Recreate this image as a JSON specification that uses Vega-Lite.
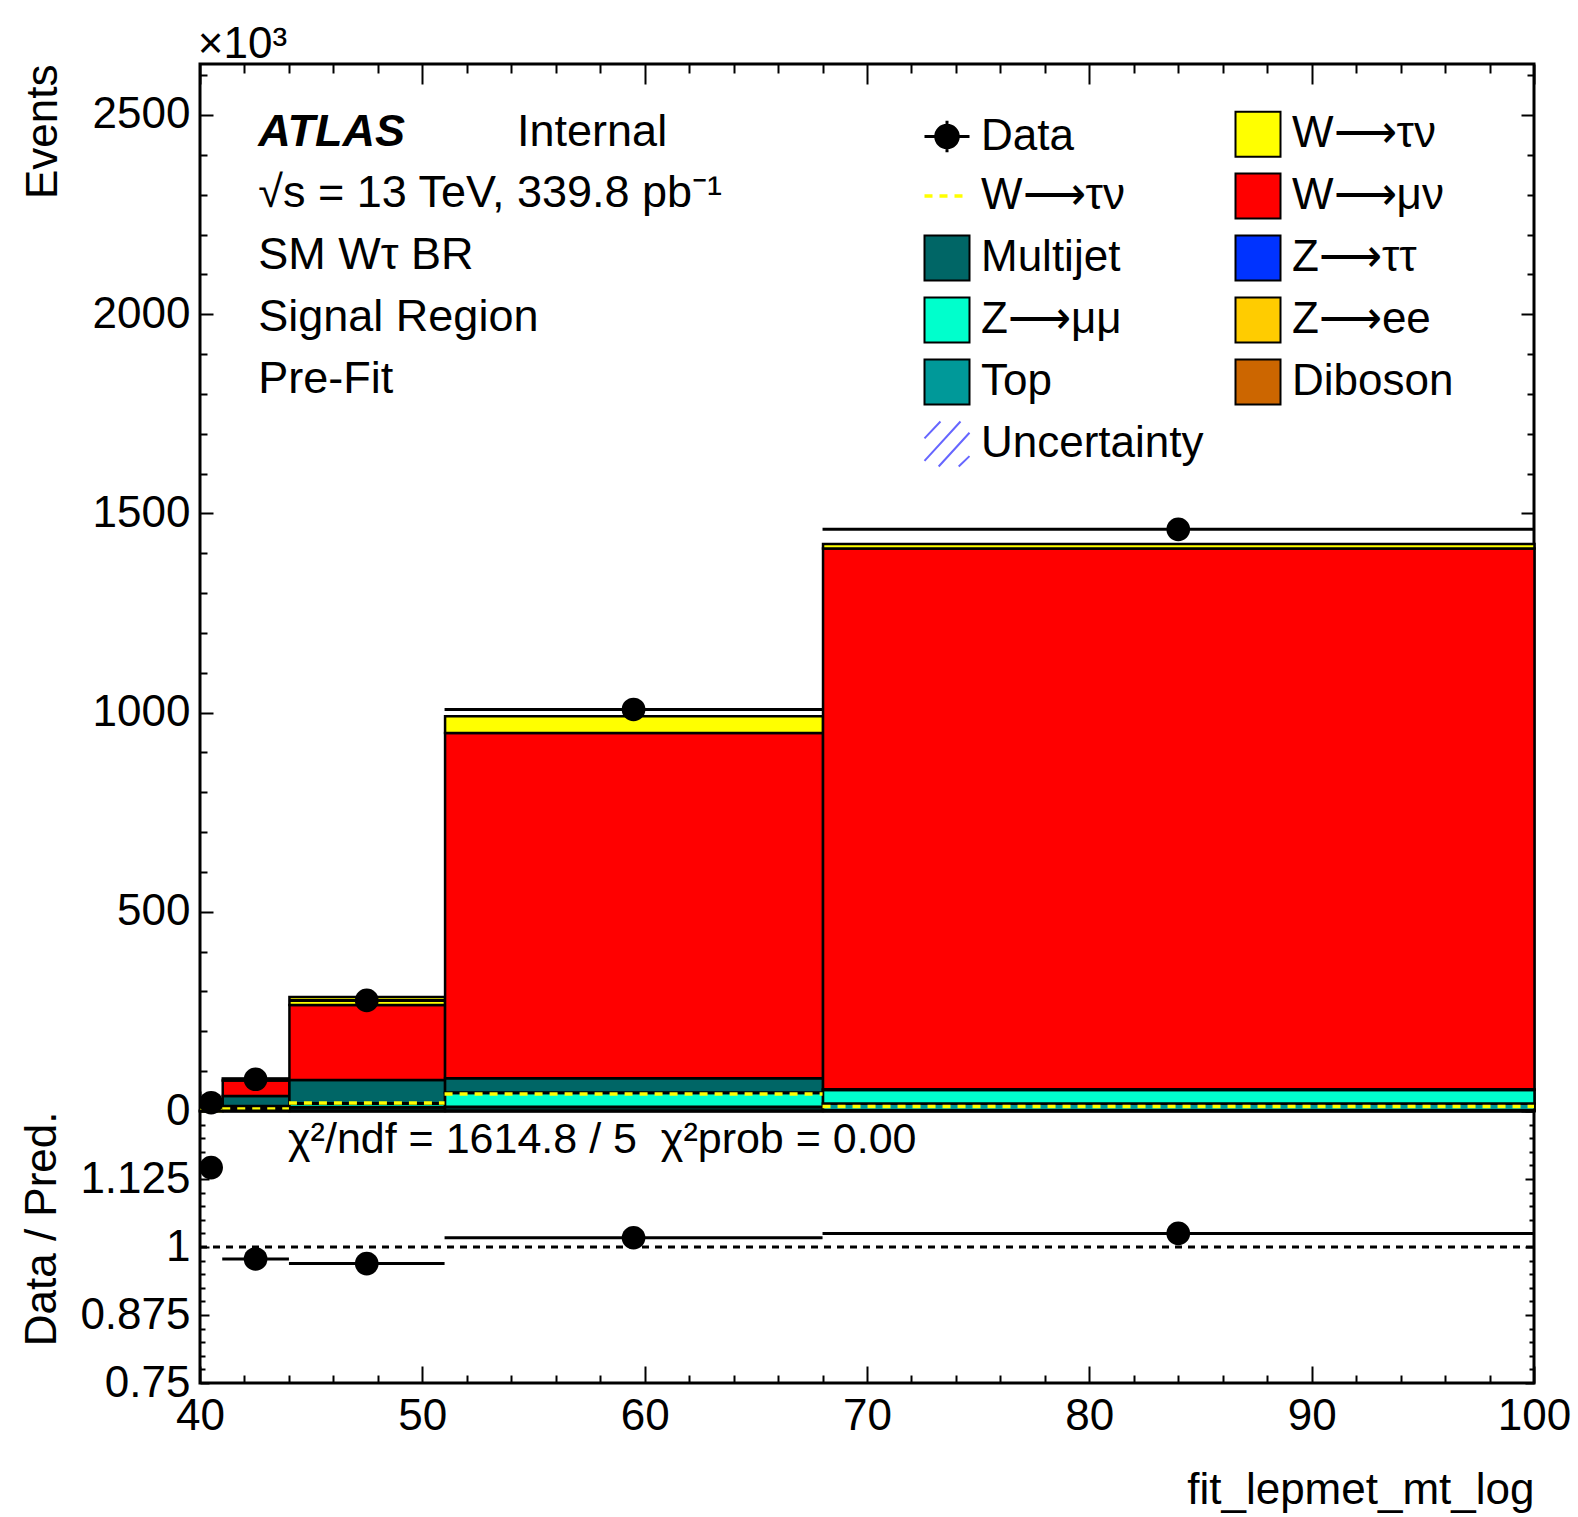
{
  "$schema": "https://vega.github.io/schema/vega-lite/v6.json",
  "background": "white",
  "padding": {"left": 18, "top": 21, "right": 0, "bottom": 0},
  "spacing": 0,
  "bounds": "flush",
  "config": {
    "view": {"stroke": "black", "strokeWidth": 3},
    "font": "Liberation Sans",
    "axis": {"domain": false, "grid": false, "labelFont": "Liberation Sans", "labelFontSize": 44, "labelColor": "black", "titleFont": "Liberation Sans", "titleFontSize": 44, "titleFontWeight": "normal", "titleColor": "black", "tickColor": "black", "tickWidth": 2, "labelFlush": false, "labelOverlap": false}
  },
  "datasets": {
    "stack": [
      {"lo": 40, "hi": 41, "comp": "Diboson", "value": 0.2},
      {"lo": 40, "hi": 41, "comp": "Top", "value": 1.0},
      {"lo": 40, "hi": 41, "comp": "Z→ee", "value": 0.2},
      {"lo": 40, "hi": 41, "comp": "Z→μμ", "value": 1.5},
      {"lo": 40, "hi": 41, "comp": "Z→ττ", "value": 0.3},
      {"lo": 40, "hi": 41, "comp": "Multijet", "value": 7.0},
      {"lo": 40, "hi": 41, "comp": "W→μν", "value": 6.5},
      {"lo": 40, "hi": 41, "comp": "W→τν", "value": 1.5},
      {"lo": 41, "hi": 44, "comp": "Diboson", "value": 0.7},
      {"lo": 41, "hi": 44, "comp": "Top", "value": 5.0},
      {"lo": 41, "hi": 44, "comp": "Z→ee", "value": 0.8},
      {"lo": 41, "hi": 44, "comp": "Z→μμ", "value": 5.0},
      {"lo": 41, "hi": 44, "comp": "Z→ττ", "value": 1.0},
      {"lo": 41, "hi": 44, "comp": "Multijet", "value": 25.0},
      {"lo": 41, "hi": 44, "comp": "W→μν", "value": 38.9},
      {"lo": 41, "hi": 44, "comp": "W→τν", "value": 5.0},
      {"lo": 44, "hi": 51, "comp": "Diboson", "value": 1.0},
      {"lo": 44, "hi": 51, "comp": "Top", "value": 8.0},
      {"lo": 44, "hi": 51, "comp": "Z→ee", "value": 1.0},
      {"lo": 44, "hi": 51, "comp": "Z→μμ", "value": 8.5},
      {"lo": 44, "hi": 51, "comp": "Z→ττ", "value": 0.8},
      {"lo": 44, "hi": 51, "comp": "Multijet", "value": 58.5},
      {"lo": 44, "hi": 51, "comp": "W→μν", "value": 188.2},
      {"lo": 44, "hi": 51, "comp": "W→τν", "value": 20.0},
      {"lo": 51, "hi": 68, "comp": "Diboson", "value": 1.5},
      {"lo": 51, "hi": 68, "comp": "Top", "value": 8.0},
      {"lo": 51, "hi": 68, "comp": "Z→ee", "value": 1.3},
      {"lo": 51, "hi": 68, "comp": "Z→μμ", "value": 34.6},
      {"lo": 51, "hi": 68, "comp": "Z→ττ", "value": 1.0},
      {"lo": 51, "hi": 68, "comp": "Multijet", "value": 35.6},
      {"lo": 51, "hi": 68, "comp": "W→μν", "value": 866.5},
      {"lo": 51, "hi": 68, "comp": "W→τν", "value": 42.5},
      {"lo": 68, "hi": 100, "comp": "Diboson", "value": 2.0},
      {"lo": 68, "hi": 100, "comp": "Top", "value": 16.0},
      {"lo": 68, "hi": 100, "comp": "Z→ee", "value": 1.0},
      {"lo": 68, "hi": 100, "comp": "Z→μμ", "value": 33.5},
      {"lo": 68, "hi": 100, "comp": "Z→ττ", "value": 1.0},
      {"lo": 68, "hi": 100, "comp": "Multijet", "value": 1.0},
      {"lo": 68, "hi": 100, "comp": "W→μν", "value": 1357.5},
      {"lo": 68, "hi": 100, "comp": "W→τν", "value": 11.0}
    ],
    "bins": [
      {"lo": 40, "hi": 41, "x": 40.5, "data": 20.8, "ratio": 1.146},
      {"lo": 41, "hi": 44, "x": 42.5, "data": 79.6, "ratio": 0.978},
      {"lo": 44, "hi": 51, "x": 47.5, "data": 277.5, "ratio": 0.9695},
      {"lo": 51, "hi": 68, "x": 59.5, "data": 1007.8, "ratio": 1.017},
      {"lo": 68, "hi": 100, "x": 84, "data": 1460, "ratio": 1.025}
    ]
  },
  "vconcat": [
    {
      "width": 1334,
      "height": 1047,
      "resolve": {"axis": {"x": "independent", "y": "independent"}},
      "layer": [
        {
          "data": {"name": "stack"},
          "transform": [{"calculate": "indexof(['Diboson', 'Top', 'Z→ee', 'Z→μμ', 'Z→ττ', 'Multijet', 'W→μν', 'W→τν'], datum.comp)", "as": "stackOrder"}],
          "mark": {"type": "bar", "stroke": "black", "strokeWidth": 2.5, "binSpacing": 0},
          "encoding": {
            "x": {"field": "lo", "type": "quantitative", "bin": "binned", "scale": {"domain": [40, 100], "nice": false, "zero": false},
              "axis": {"orient": "bottom", "values": [40,42,44,46,48,50,52,54,56,58,60,62,64,66,68,70,72,74,76,78,80,82,84,86,88,90,92,94,96,98,100], "labels": false, "title": null,
                "tickSize": {"condition": {"test": "datum.value % 10 === 0", "value": -20}, "value": -9}}},
            "x2": {"field": "hi"},
            "y": {"field": "value", "type": "quantitative", "stack": "zero", "scale": {"domain": [0, 2628], "nice": false},
              "axis": {"orient": "left", "values": [0,100,200,300,400,500,600,700,800,900,1000,1100,1200,1300,1400,1500,1600,1700,1800,1900,2000,2100,2200,2300,2400,2500,2600],
                "format": "d", "labelExpr": "datum.value % 500 === 0 ? datum.label : ''",
                "tickSize": {"condition": {"test": "datum.value % 500 === 0", "value": -13}, "value": -7},
                "labelPadding": 23, "title": "Events", "titleAngle": -90, "titleAlign": "right", "titleBaseline": "alphabetic", "titleX": -144, "titleY": 0}},
            "order": {"field": "stackOrder", "type": "quantitative", "sort": "ascending"},
            "fill": {"field": "comp", "type": "nominal",
              "scale": {
                "domain": ["Data", "W→τν (line)", "Multijet", "Z→μμ", "Top", "Uncertainty", "W→τν", "W→μν", "Z→ττ", "Z→ee", "Diboson"],
                "range": ["#000000", "#FFFF00", "#006666", "#00FFCC", "#009999", "#6666FF", "#FFFF00", "#FF0000", "#0033FF", "#FFCC00", "#CC6600"]
              },
              "legend": {
                "orient": "none", "legendX": 725, "legendY": 48, "columns": 2, "title": null,
                "values": ["Data", "W→τν (line)", "Multijet", "Z→μμ", "Top", "Uncertainty", "W→τν", "W→μν", "Z→ττ", "Z→ee", "Diboson"],
                "symbolSize": 2025, "symbolType": "square", "symbolStrokeWidth": 2, "symbolStrokeColor": "black",
                "labelFont": "Liberation Sans", "labelFontSize": 44, "labelColor": "black", "labelOffset": 12, "labelLimit": 400,
                "rowPadding": 8, "columnPadding": 27, "padding": 0, "gridAlign": "each",
                "labelExpr": "replace(datum.value === 'W→τν (line)' ? 'W→τν' : datum.label, '→', '⟶')",
                "encode": {"symbols": {"update": {
                  "shape": {"signal": "datum.value === 'Data' ? 'M-1,0H1M0,-0.7V0.7M0.5,0A0.5,0.5,0,1,1,-0.5,0A0.5,0.5,0,1,1,0.5,0Z' : datum.value === 'W→τν (line)' ? 'M-1,0H1' : datum.value === 'Uncertainty' ? 'M-1,-0.25L-0.29,-1M-1,0.75L0.6,-1M-0.37,1L1,-0.5M0.52,1L1,0.54' : 'square'"},
                  "fillOpacity": {"signal": "datum.value === 'W→τν (line)' || datum.value === 'Uncertainty' ? 0 : 1"},
                  "stroke": {"signal": "datum.value === 'W→τν (line)' ? '#FFFF00' : datum.value === 'Uncertainty' ? '#6666FF' : 'black'"},
                  "strokeDash": {"signal": "datum.value === 'W→τν (line)' ? [8, 7] : []"},
                  "strokeWidth": {"signal": "datum.value === 'W→τν (line)' ? 3.5 : datum.value === 'Data' ? 3 : 2"}
                }}}
              }
            }
          }
        },
        {
          "data": {"name": "stack"},
          "transform": [{"filter": "datum.comp === 'W→τν'"}],
          "mark": {"type": "rule", "color": "#FFFF00", "strokeWidth": 3.5, "strokeDash": [8, 7]},
          "encoding": {
            "x": {"field": "lo", "type": "quantitative", "scale": {"domain": [40, 100], "nice": false, "zero": false},
              "axis": {"orient": "top", "values": [40,42,44,46,48,50,52,54,56,58,60,62,64,66,68,70,72,74,76,78,80,82,84,86,88,90,92,94,96,98,100], "labels": false, "title": null,
                "tickSize": {"condition": {"test": "datum.value % 10 === 0", "value": -20}, "value": -9}}},
            "x2": {"field": "hi"},
            "y": {"field": "value", "type": "quantitative", "stack": null, "scale": {"domain": [0, 2628], "nice": false},
              "axis": {"orient": "right", "values": [0,100,200,300,400,500,600,700,800,900,1000,1100,1200,1300,1400,1500,1600,1700,1800,1900,2000,2100,2200,2300,2400,2500,2600], "labels": false, "title": null,
                "tickSize": {"condition": {"test": "datum.value % 500 === 0", "value": -13}, "value": -7}}}
          }
        },
        {
          "data": {"name": "bins"},
          "mark": {"type": "rule", "color": "black", "strokeWidth": 3},
          "encoding": {
            "x": {"field": "lo", "type": "quantitative", "scale": {"domain": [40, 100], "nice": false, "zero": false}, "axis": null},
            "x2": {"field": "hi"},
            "y": {"field": "data", "type": "quantitative", "scale": {"domain": [0, 2628], "nice": false}, "axis": null}
          }
        },
        {
          "data": {"name": "bins"},
          "mark": {"type": "point", "filled": true, "color": "black", "size": 560, "opacity": 1},
          "encoding": {
            "x": {"field": "x", "type": "quantitative", "scale": {"domain": [40, 100], "nice": false, "zero": false}, "axis": null},
            "y": {"field": "data", "type": "quantitative", "scale": {"domain": [0, 2628], "nice": false}, "axis": null}
          }
        },
        {
          "data": {"values": [{}]},
          "mark": {"type": "text", "text": "ATLAS", "font": "Liberation Sans", "fontSize": 45, "fontWeight": "bold", "fontStyle": "italic", "align": "left", "baseline": "middle", "color": "black", "clip": false},
          "encoding": {"x": {"datum": 42.62, "type": "quantitative", "axis": null}, "y": {"datum": 2457, "type": "quantitative", "axis": null}}
        },
        {
          "data": {"values": [{}]},
          "mark": {"type": "text", "text": "Internal", "font": "Liberation Sans", "fontSize": 45, "align": "left", "baseline": "middle", "color": "black", "clip": false},
          "encoding": {"x": {"datum": 54.26, "type": "quantitative", "axis": null}, "y": {"datum": 2457, "type": "quantitative", "axis": null}}
        },
        {
          "data": {"values": [{}]},
          "mark": {"type": "text", "text": "√s = 13 TeV, 339.8 pb⁻¹", "font": "Liberation Sans", "fontSize": 45, "align": "left", "baseline": "middle", "color": "black", "clip": false},
          "encoding": {"x": {"datum": 42.62, "type": "quantitative", "axis": null}, "y": {"datum": 2304, "type": "quantitative", "axis": null}}
        },
        {
          "data": {"values": [{}]},
          "mark": {"type": "text", "text": "SM Wτ BR", "font": "Liberation Sans", "fontSize": 45, "align": "left", "baseline": "middle", "color": "black", "clip": false},
          "encoding": {"x": {"datum": 42.62, "type": "quantitative", "axis": null}, "y": {"datum": 2149, "type": "quantitative", "axis": null}}
        },
        {
          "data": {"values": [{}]},
          "mark": {"type": "text", "text": "Signal Region", "font": "Liberation Sans", "fontSize": 45, "align": "left", "baseline": "middle", "color": "black", "clip": false},
          "encoding": {"x": {"datum": 42.62, "type": "quantitative", "axis": null}, "y": {"datum": 1993, "type": "quantitative", "axis": null}}
        },
        {
          "data": {"values": [{}]},
          "mark": {"type": "text", "text": "Pre-Fit", "font": "Liberation Sans", "fontSize": 45, "align": "left", "baseline": "middle", "color": "black", "clip": false},
          "encoding": {"x": {"datum": 42.62, "type": "quantitative", "axis": null}, "y": {"datum": 1837, "type": "quantitative", "axis": null}}
        },
        {
          "data": {"values": [{}]},
          "mark": {"type": "text", "text": "×10³", "font": "Liberation Sans", "fontSize": 44, "align": "left", "baseline": "middle", "color": "black", "clip": false},
          "encoding": {"x": {"datum": 39.9, "type": "quantitative", "axis": null}, "y": {"datum": 2675, "type": "quantitative", "axis": null}}
        }
      ]
    },
    {
      "width": 1334,
      "height": 272,
      "resolve": {"axis": {"x": "independent", "y": "independent"}},
      "layer": [
        {
          "data": {"values": [{}]},
          "mark": {"type": "rule", "color": "black", "strokeWidth": 3, "strokeDash": [7, 6], "clip": false},
          "encoding": {
            "x": {"datum": 40, "type": "quantitative", "scale": {"domain": [40, 100], "nice": false, "zero": false}, "axis": null},
            "x2": {"datum": 100},
            "y": {"datum": 1, "type": "quantitative", "scale": {"domain": [0.75, 1.25], "nice": false, "zero": false}, "axis": null}
          }
        },
        {
          "data": {"name": "bins"},
          "mark": {"type": "rule", "color": "black", "strokeWidth": 3},
          "encoding": {
            "x": {"field": "lo", "type": "quantitative", "scale": {"domain": [40, 100], "nice": false, "zero": false},
              "axis": {"orient": "bottom", "values": [40,42,44,46,48,50,52,54,56,58,60,62,64,66,68,70,72,74,76,78,80,82,84,86,88,90,92,94,96,98,100],
                "format": "d", "labelExpr": "datum.value % 10 === 0 ? datum.label : ''",
                "tickSize": {"condition": {"test": "datum.value % 10 === 0", "value": -17}, "value": -8},
                "labelPadding": 28, "title": "fit_lepmet_mt_log", "titleAlign": "right", "titleBaseline": "alphabetic", "titleX": 1334, "titleY": 120}},
            "x2": {"field": "hi"},
            "y": {"field": "ratio", "type": "quantitative", "scale": {"domain": [0.75, 1.25], "nice": false, "zero": false},
              "axis": {"orient": "left", "values": [0.75,0.775,0.8,0.825,0.85,0.875,0.9,0.925,0.95,0.975,1,1.025,1.05,1.075,1.1,1.125,1.15,1.175,1.2,1.225,1.25],
                "labelExpr": "datum.value === 0.75 ? '0.75' : datum.value === 0.875 ? '0.875' : datum.value === 1 ? '1' : datum.value === 1.125 ? '1.125' : ''",
                "tickSize": {"condition": {"test": "abs(datum.value * 8 - round(datum.value * 8)) < 0.001", "value": -9}, "value": -5},
                "labelPadding": 19, "title": "Data / Pred.", "titleAngle": -90, "titleAlign": "right", "titleBaseline": "alphabetic", "titleX": -145, "titleY": 0}}
          }
        },
        {
          "data": {"name": "bins"},
          "mark": {"type": "point", "filled": true, "color": "black", "size": 560, "opacity": 1},
          "encoding": {
            "x": {"field": "x", "type": "quantitative", "scale": {"domain": [40, 100], "nice": false, "zero": false}, "axis": null},
            "y": {"field": "ratio", "type": "quantitative", "scale": {"domain": [0.75, 1.25], "nice": false, "zero": false},
              "axis": {"orient": "right", "values": [0.75,0.775,0.8,0.825,0.85,0.875,0.9,0.925,0.95,0.975,1,1.025,1.05,1.075,1.1,1.125,1.15,1.175,1.2,1.225,1.25], "labels": false, "title": null,
                "tickSize": {"condition": {"test": "abs(datum.value * 8 - round(datum.value * 8)) < 0.001", "value": -9}, "value": -5}}}
          }
        },
        {
          "data": {"values": [{}]},
          "mark": {"type": "text", "text": "χ²/ndf = 1614.8 / 5\u00a0\u00a0χ²prob = 0.00", "font": "Liberation Sans", "fontSize": 43, "align": "left", "baseline": "middle", "color": "black", "clip": false},
          "encoding": {"x": {"datum": 43.96, "type": "quantitative", "axis": null}, "y": {"datum": 1.196, "type": "quantitative", "axis": null}}
        }
      ]
    }
  ]
}
